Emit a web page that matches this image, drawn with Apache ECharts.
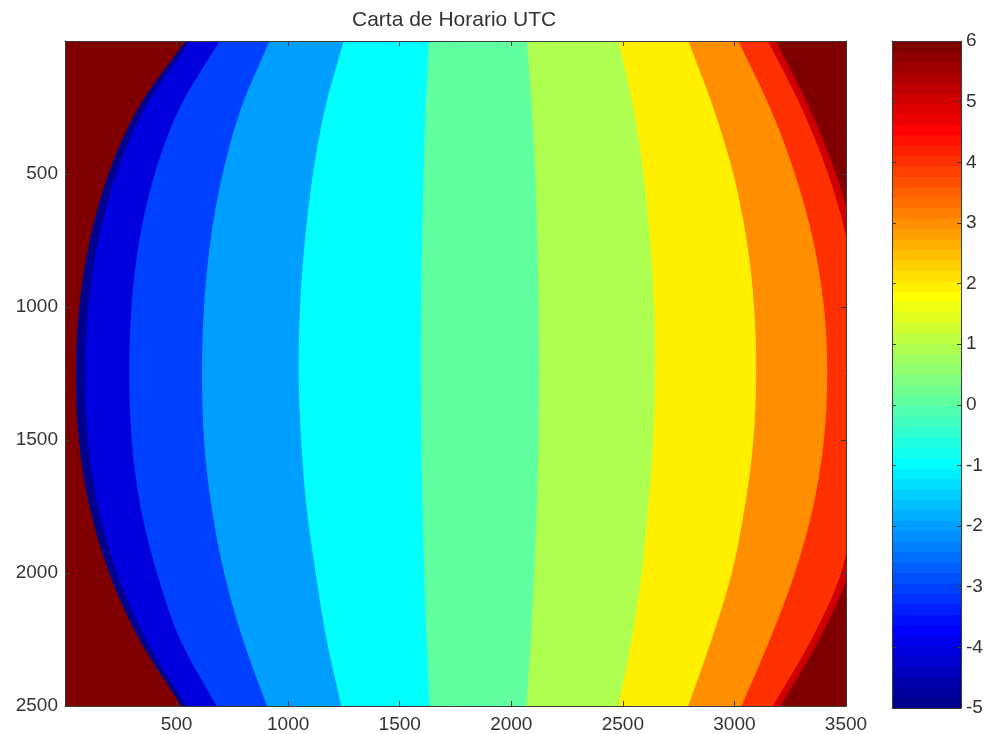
<!DOCTYPE html>
<html>
<head>
<meta charset="utf-8">
<script src="https://cdn.jsdelivr.net/npm/echarts@6/dist/echarts.min.js"></script>
<style>html,body{margin:0;padding:0;background:#fff}#c{width:987px;height:734px}</style>
</head>
<body>
<div id="c"></div>
<script>
// ---------- data ----------
// image rows (y) at which the band boundaries were read
const rowY = [0, 250, 500, 750, 1000, 1250, 1500, 1750, 2000, 2250, 2500];
// x (image column) where each UTC zone begins, per row
const diskWestEdge = [540, 330, 195, 111, 64, 49, 62, 110, 198, 333, 522];   // zone -5 begins
const startM4 = [562, 360, 230, 149, 104, 89, 102, 148, 233, 363, 544];
const startM3 = [693, 515, 402, 333, 298, 288, 299, 338, 412, 516, 679];
const startM2 = [917, 790, 706, 652, 623, 614, 623, 656, 713, 797, 905];
const startM1 = [1249, 1166, 1111, 1075, 1053, 1047, 1058, 1082, 1123, 1172, 1238];
const start0  = [1630, 1616, 1607, 1600, 1596, 1595, 1597, 1602, 1610, 1620, 1634];
const startP1 = [2070, 2092, 2107, 2117, 2122, 2124, 2122, 2115, 2102, 2088, 2068];
const startP2 = [2480, 2547, 2592, 2622, 2640, 2644, 2636, 2614, 2584, 2540, 2480];
const startP3 = [2793, 2905, 2995, 3055, 3088, 3097, 3085, 3047, 2988, 2898, 2793];
const startP4 = [3017, 3159, 3271, 3353, 3401, 3416, 3401, 3353, 3271, 3159, 3032];
const startP5 = [3150, 3300, 3420, 3505, 3548, 3563, 3560, 3535, 3478, 3345, 3172];
const diskEastEdge = [3185, 3335, 3455, 3540, 3583, 3598, 3595, 3570, 3512, 3380, 3207]; // back to space
// zone value painted from each west edge eastwards (first entry: background / space)
const zoneValues = [6, -5, -4, -3, -2, -1, 0, 1, 2, 3, 4, 5, 6];
const zoneWestEdges = [null, diskWestEdge, startM4, startM3, startM2, startM1, start0,
                       startP1, startP2, startP3, startP4, startP5, diskEastEdge];
// axes: min, max, step
const xTicks = [0, 3500, 500];
const yTicks = [0, 2500, 500];
const cbarRange = [-5, 6, 1];

// ---------- MATLAB jet(64) colormap ----------
function u(k) { if (k < 1 || k > 47) return 0; if (k <= 16) return k / 16; if (k <= 31) return 1; return (48 - k) / 16; }
function hex(c) { return ('0' + Math.round(c * 255).toString(16)).slice(-2); }
function jetIdx(i) { return '#' + hex(u(i - 24)) + hex(u(i - 8)) + hex(u(i + 8)); }
const M = 64;
function jetVal(v) {
  const i = Math.min(M, Math.floor((v - cbarRange[0]) / (cbarRange[1] - cbarRange[0]) * M) + 1);
  return jetIdx(Math.max(1, i));
}

function smoothPath(pts) {
  let d = 'M' + pts[0][0] + ',' + pts[0][1];
  for (let i = 0; i < pts.length - 1; i++) {
    const p1 = pts[i], p2 = pts[i + 1];
    const p0 = pts[i - 1] || [2 * p1[0] - p2[0], 2 * p1[1] - p2[1]];
    const p3 = pts[i + 2] || [2 * p2[0] - p1[0], 2 * p2[1] - p1[1]];
    const c1 = [p1[0] + (p2[0] - p0[0]) / 6, p1[1] + (p2[1] - p0[1]) / 6];
    const c2 = [p2[0] - (p3[0] - p1[0]) / 6, p2[1] - (p3[1] - p1[1]) / 6];
    d += ' C' + c1[0] + ',' + c1[1] + ' ' + c2[0] + ',' + c2[1] + ' ' + p2[0] + ',' + p2[1];
  }
  return d;
}

const FONT = 'Liberation Sans';
const TXT = '#333';
const LINE = '#3a3a3a';

const chart = echarts.init(document.getElementById('c'), null, { renderer: 'canvas' });

function axisCommon(extra) {
  return Object.assign({
    type: 'value', z: 10,
    splitLine: { show: false },
    axisLine: { show: true, onZero: false, lineStyle: { color: LINE, width: 1 } },
    axisTick: { show: true, inside: true, length: 5, lineStyle: { color: LINE } },
    axisLabel: { show: false }
  }, extra);
}
const lbl = (margin) => ({ show: true, margin: margin, color: TXT, fontFamily: FONT, fontSize: 19,
  formatter: v => (v === 0 ? '' : String(v)) });

chart.setOption({
  animation: false,
  backgroundColor: '#fff',
  title: { text: 'Carta de Horario UTC', left: 352, top: 10, padding: 0,
    textStyle: { fontFamily: FONT, fontSize: 21, fontWeight: 'normal', color: TXT } },
  grid: [
    { left: 65, top: 41, width: 781, height: 667 },
    { left: 892, top: 41, width: 69, height: 667 }
  ],
  xAxis: [
    axisCommon({ gridIndex: 0, position: 'bottom', min: xTicks[0], max: xTicks[1], interval: xTicks[2], axisLabel: lbl(9) }),
    axisCommon({ gridIndex: 0, position: 'top', min: xTicks[0], max: xTicks[1], interval: xTicks[2] }),
    axisCommon({ gridIndex: 1, position: 'bottom', min: 0, max: 1, axisTick: { show: false } }),
    axisCommon({ gridIndex: 1, position: 'top', min: 0, max: 1, axisTick: { show: false } })
  ],
  yAxis: [
    axisCommon({ gridIndex: 0, position: 'left', inverse: true, min: yTicks[0], max: yTicks[1], interval: yTicks[2], axisLabel: lbl(7) }),
    axisCommon({ gridIndex: 0, position: 'right', inverse: true, min: yTicks[0], max: yTicks[1], interval: yTicks[2] }),
    axisCommon({ gridIndex: 1, position: 'right', min: cbarRange[0], max: cbarRange[1], interval: cbarRange[2],
      axisTick: { show: true, inside: true, length: 4, lineStyle: { color: LINE } },
      axisLabel: { show: true, margin: 5, color: TXT, fontFamily: FONT, fontSize: 19 } }),
    axisCommon({ gridIndex: 1, position: 'left', min: cbarRange[0], max: cbarRange[1], interval: cbarRange[2],
      axisTick: { show: true, inside: true, length: 4, lineStyle: { color: LINE } } })
  ],
  series: [
    {
      type: 'custom', name: 'zones', xAxisIndex: 0, yAxisIndex: 0, clip: true, z: 2,
      data: zoneValues.map((v, i) => [i, v]),
      encode: { x: -1, y: -1 },
      renderItem: function (params, api) {
        const i = api.value(0);
        const v = api.value(1);
        const cs = params.coordSys;
        const color = jetVal(v);
        const edges = zoneWestEdges[i];
        if (!edges) {
          const a = api.coord([xTicks[0], yTicks[0]]);
          const b = api.coord([xTicks[1], yTicks[1]]);
          return { type: 'rect', shape: { x: Math.min(a[0], b[0]), y: Math.min(a[1], b[1]),
            width: Math.abs(b[0] - a[0]), height: Math.abs(b[1] - a[1]) }, style: { fill: color } };
        }
        const pts = rowY.map((y, k) => api.coord([edges[k], y]));
        const right = cs.x + cs.width + 20;
        const d = smoothPath(pts) + ' L' + right + ',' + pts[pts.length - 1][1] + ' L' + right + ',' + pts[0][1] + ' Z';
        return { type: 'path', shape: { pathData: d }, style: { fill: color } };
      }
    },
    {
      type: 'custom', name: 'colorbar', xAxisIndex: 2, yAxisIndex: 2, clip: true, z: 2,
      data: [[cbarRange[0], cbarRange[1]]],
      encode: { x: -1, y: -1 },
      renderItem: function (params, api) {
        const lo = api.value(0), hi = api.value(1);
        const step = (hi - lo) / M;
        const children = [];
        for (let k = 1; k <= M; k++) {
          const a = api.coord([0, lo + (k - 1) * step]);
          const b = api.coord([1, lo + k * step]);
          children.push({ type: 'rect', shape: { x: a[0], y: b[1] - 0.5, width: b[0] - a[0], height: a[1] - b[1] + 1 },
            style: { fill: jetIdx(k) } });
        }
        return { type: 'group', children: children };
      }
    }
  ]
});
</script>
</body>
</html>
